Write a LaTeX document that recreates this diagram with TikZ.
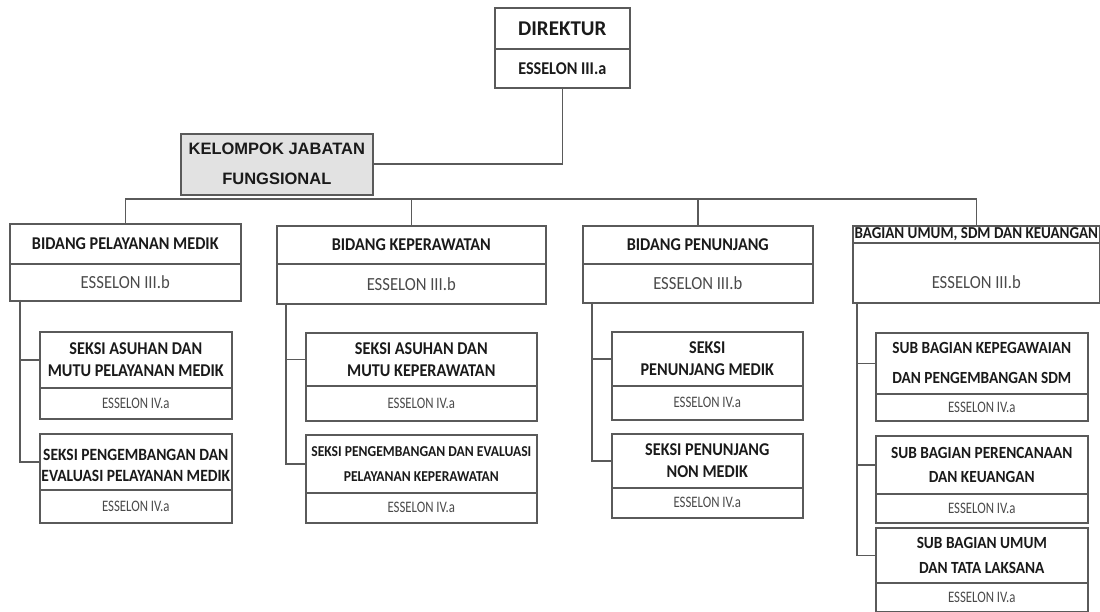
\documentclass[tikz,border=0pt]{standalone}
\usepackage{fontspec}
\setmainfont{Carlito}
\newfontfamily\kjffont{Liberation Sans}
\newfontfamily\condfont[FakeStretch=0.8]{Carlito}
\newfontfamily\semicond[FakeStretch=0.9]{Carlito}
\definecolor{linec}{HTML}{5A5A5A}
\definecolor{titlec}{HTML}{1A1A1A}
\definecolor{essc}{HTML}{4A4A4A}
\definecolor{kjffill}{HTML}{E2E2E2}
\begin{document}
\begin{tikzpicture}[x=1pt,y=-1pt,
  box/.style={draw=linec,line width=1.6pt,inner sep=0pt,align=center,anchor=north west},
  ttl/.style={box,text=titlec,font=\semicond\bfseries\fontsize{18}{22}\selectfont},
  ess/.style={box,text=essc,font=\semicond\fontsize{18.5}{19}\selectfont},
  essiv/.style={box,text=essc,font=\condfont\fontsize{16}{18}\selectfont},
  conn/.style={draw=linec,line width=1.6pt}]
\useasboundingbox (0,0) rectangle (1100,612);
% Direktur
\node[ttl,minimum width=135pt,minimum height=41pt,font=\bfseries\fontsize{21}{24}\selectfont] (dir) at (494,7) {DIREKTUR};
\node[ess,minimum width=135pt,minimum height=39pt,text=titlec,font=\semicond\bfseries\fontsize{18}{19}\selectfont] (dire) at (494,48) {ESSELON III.a};
% Kelompok jabatan fungsional
\node[box,fill=kjffill,minimum width=192pt,minimum height=61pt,text=titlec,font=\kjffont\bfseries\fontsize{16.5}{30}\selectfont] (kjf) at (180,133) {KELOMPOK JABATAN\\FUNGSIONAL};
% Bidang
\node[ttl,minimum width=231pt,minimum height=40pt] (b1) at (9,223) {BIDANG PELAYANAN MEDIK};
\node[ess,minimum width=231pt,minimum height=37pt] (b1e) at (9,263) {ESSELON III.b};
\node[ttl,minimum width=269pt,minimum height=38pt] (b2) at (276,225) {BIDANG KEPERAWATAN};
\node[ess,minimum width=269pt,minimum height=40pt] (b2e) at (276,263) {ESSELON III.b};
\node[ttl,minimum width=230pt,minimum height=38pt] (b3) at (582,225) {BIDANG PENUNJANG};
\node[ess,minimum width=230pt,minimum height=39pt] (b3e) at (582,263) {ESSELON III.b};
\node[ttl,minimum width=247pt,minimum height=17pt,font=\semicond\bfseries\fontsize{16.7}{16}\selectfont] (b4) at (852,225) {BAGIAN UMUM, SDM DAN KEUANGAN};
\node[ess,minimum width=247pt,minimum height=60pt] (b4e) at (852,242) {\rule{0pt}{31pt}ESSELON III.b};
% Seksi column 1
\node[ttl,minimum width=192pt,minimum height=56pt] (s11) at (39,331) {SEKSI ASUHAN DAN\\MUTU PELAYANAN MEDIK};
\node[essiv,minimum width=192pt,minimum height=31pt] (s11e) at (39,387) {ESSELON IV.a};
\node[ttl,minimum width=192pt,minimum height=56pt,font=\semicond\bfseries\fontsize{17.2}{21}\selectfont] (s12) at (39,433) {\rule{0pt}{18pt}SEKSI PENGEMBANGAN DAN\\EVALUASI PELAYANAN MEDIK};
\node[essiv,minimum width=192pt,minimum height=33pt] (s12e) at (39,489) {ESSELON IV.a};
% Seksi column 2
\node[ttl,minimum width=231pt,minimum height=53pt] (s21) at (305,332) {SEKSI ASUHAN DAN\\MUTU KEPERAWATAN};
\node[essiv,minimum width=231pt,minimum height=35pt] (s21e) at (305,385) {ESSELON IV.a};
\node[ttl,minimum width=231pt,minimum height=58pt,font=\semicond\bfseries\fontsize{15.1}{25}\selectfont] (s22) at (305,434) {SEKSI PENGEMBANGAN DAN EVALUASI\\PELAYANAN KEPERAWATAN};
\node[essiv,minimum width=231pt,minimum height=30pt] (s22e) at (305,492) {ESSELON IV.a};
% Seksi column 3
\node[ttl,minimum width=191pt,minimum height=54pt] (s31) at (611,331) {SEKSI\\PENUNJANG MEDIK};
\node[essiv,minimum width=191pt,minimum height=34pt] (s31e) at (611,385) {ESSELON IV.a};
\node[ttl,minimum width=191pt,minimum height=54pt] (s32) at (611,433) {SEKSI PENUNJANG\\NON MEDIK};
\node[essiv,minimum width=191pt,minimum height=30pt] (s32e) at (611,487) {ESSELON IV.a};
% Sub bagian column 4
\node[ttl,minimum width=212pt,minimum height=61pt,font=\semicond\bfseries\fontsize{17}{30}\selectfont] (s41) at (875,332) {SUB BAGIAN KEPEGAWAIAN\\DAN PENGEMBANGAN SDM};
\node[essiv,minimum width=212pt,minimum height=27pt] (s41e) at (875,393) {ESSELON IV.a};
\node[ttl,minimum width=212pt,minimum height=58pt,font=\semicond\bfseries\fontsize{17}{24}\selectfont] (s42) at (875,435) {SUB BAGIAN PERENCANAAN\\DAN KEUANGAN};
\node[essiv,minimum width=212pt,minimum height=29pt] (s42e) at (875,493) {ESSELON IV.a};
\node[ttl,minimum width=212pt,minimum height=55pt,font=\semicond\bfseries\fontsize{17}{25}\selectfont] (s43) at (875,527) {SUB BAGIAN UMUM\\DAN TATA LAKSANA};
\node[essiv,minimum width=212pt,minimum height=29pt] (s43e) at (875,582) {ESSELON IV.a};
% Connectors
\draw[conn] (dire.south) |- (kjf.east);
\coordinate (bus) at (126,199);
\draw[conn] (b1.north) -- (b1.north |- bus) -- (b4.north |- bus) -- (b4.north);
\draw[conn] (b2.north |- bus) -- (b2.north);
\draw[conn] (b3.north |- bus) -- (b3.north);
\coordinate (t1) at (20,300);
\coordinate (t2) at (286,303);
\coordinate (t3) at (592,302);
\coordinate (t4) at (857,302);
\draw[conn] (t1) |- (s12.west);
\draw[conn] (t1 |- s11.west) -- (s11.west);
\draw[conn] (t2) |- (s22.west);
\draw[conn] (t2 |- s21.west) -- (s21.west);
\draw[conn] (t3) |- (s32.west);
\draw[conn] (t3 |- s31.west) -- (s31.west);
\draw[conn] (t4) |- (s43.west);
\draw[conn] (t4 |- s41.west) -- (s41.west);
\draw[conn] (t4 |- s42.west) -- (s42.west);
\end{tikzpicture}
\end{document}
